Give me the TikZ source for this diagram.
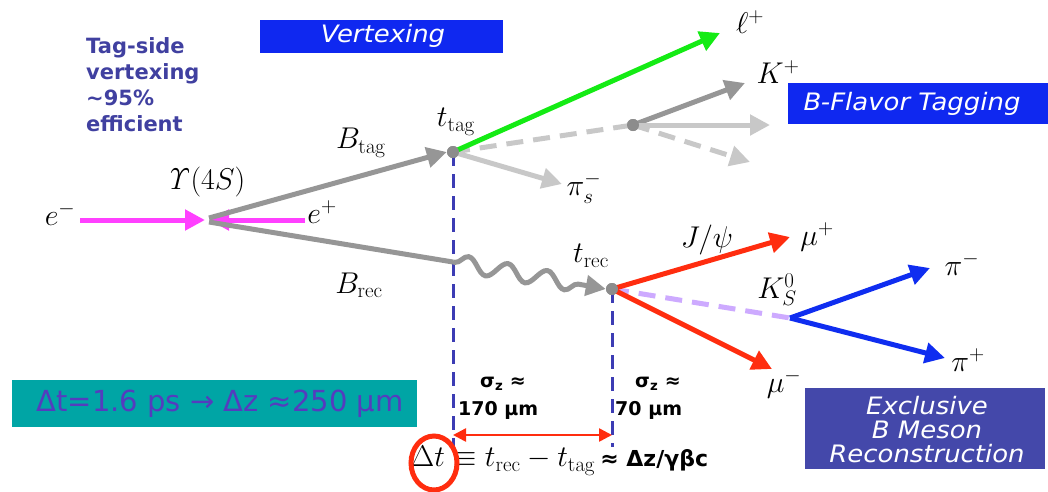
\RequirePackage{fix-cm}
\documentclass[tikz,border=0pt]{standalone}
\usepackage[no-math]{fontspec}
\newfontfamily\vf{DejaVu Sans}
\usetikzlibrary{arrows.meta,decorations.pathmorphing}
\definecolor{gr}{RGB}{150,150,150}
\definecolor{lgr}{RGB}{200,200,200}
\definecolor{dgr}{RGB}{140,140,140}
\definecolor{mag}{RGB}{255,64,255}
\definecolor{grn}{RGB}{20,235,20}
\definecolor{rd}{RGB}{255,45,15}
\definecolor{bl}{RGB}{15,45,240}
\definecolor{lav}{RGB}{205,170,255}
\definecolor{vd}{RGB}{60,60,180}
\definecolor{vbox}{RGB}{15,40,240}
\definecolor{pbox}{RGB}{68,72,170}
\definecolor{teal2}{RGB}{0,165,165}
\definecolor{tagc}{RGB}{64,64,160}
\definecolor{tealtxt}{RGB}{85,60,190}
\tikzset{
  trk/.style={line width=5pt},
  tip/.style={-{Triangle[length=20pt,width=20pt]}},
  lbl/.style={inner sep=0pt,font=\fontsize{30}{30}\selectfont},
  titlebox/.style={inner sep=0pt,text=white,font=\vf\itshape\fontsize{24}{24}\selectfont,align=center,xscale=1.08,transform shape},
  vdash/.style={draw=vd,line width=3pt,dash pattern=on 14pt off 8pt},
  dotn/.style={circle,fill=dgr,inner sep=0pt,minimum size=12pt},
  sig/.style={inner sep=0pt,font=\vf\bfseries\fontsize{19}{19}\selectfont},
}
\begin{document}
\begin{tikzpicture}[x=1pt,y=-1pt]
\useasboundingbox (0,0) rectangle (1048,491);
% boxes
\fill[vbox] (260,20) rectangle (503,53);
\node[titlebox] (vtx) at (383,36) {Vertexing};
\fill[vbox] (788,83) rectangle (1048,124);
\node[titlebox] (bft) at (912,104) {B-Flavor Tagging};
\fill[pbox] (805,388) rectangle (1045,469);
\node[titlebox] (excl) at (927,430) {Exclusive\\B Meson\\Reconstruction};
\fill[teal2] (12,380) rectangle (417,427);
\node[inner sep=0pt,text=tealtxt,font=\vf\fontsize{29}{29}\selectfont] (dtz) at (220,404) {Δt=1.6 ps → Δz ≈250 μm};
% tag-side text
\node[anchor=north west,inner sep=0pt,text=tagc,align=left,font=\vf\bfseries\fontsize{21}{26}\selectfont] (tagside) at (86,37) {Tag-side\\vertexing\\\textasciitilde95\%\\efficient};
% coordinates
\coordinate (em) at (80,220);
\coordinate (ep) at (305,220);
\node[dotn] (ttag) at (453,152) {};
\node[dotn] (trec) at (612,289) {};
\node[dotn] (tv) at (633,125) {};
\coordinate (ups1) at (205,220);
\coordinate (ups2) at (209,220);
\coordinate (btag0) at (209,218);
\coordinate (brec0) at (209,222);
\coordinate (brecw) at (453,262);
\coordinate (lp) at (720,33);
\coordinate (kp) at (745,83);
\coordinate (tc) at (770,125);
\coordinate (td) at (750,162);
\coordinate (pis) at (562,184);
\coordinate (mup) at (790,237);
\coordinate (mum) at (772,369);
\coordinate (ks) at (790,318);
\coordinate (pim) at (930,268);
\coordinate (pip) at (945,358);
\coordinate (v1b) at (453,447);
\coordinate (v2b) at (612,447);
\coordinate (da) at (453,435);
\coordinate (db) at (612,435);
% verticals
\draw[vdash] (ttag.center) -- (v1b);
\draw[vdash] (trec.center) -- (v2b);
% beams
\draw[trk,mag,tip] (em) -- (ups1);
\draw[trk,mag,tip] (ep) -- (ups2);
% B lines
\draw[trk,gr,tip] (btag0) -- (ttag.west);
\draw[trk,gr] (brec0) -- (brecw);
\draw[trk,gr,tip,decorate,decoration={snake,amplitude=8pt,segment length=40pt,pre length=2pt,post length=24pt}] (brecw) -- (trec.west);
% tag side
\draw[trk,lgr,dash pattern=on 17pt off 10pt] (ttag.center) -- (tv.center);
\draw[trk,lgr,tip] (ttag.center) -- (pis);
\draw[trk,grn,tip] (ttag.center) -- (lp);
\draw[trk,gr,tip] (tv.center) -- (kp);
\draw[trk,lgr,tip] (tv.center) -- (tc);
\draw[trk,lgr,tip,dash pattern=on 17pt off 10pt] (tv.center) -- (td);
% rec side
\draw[trk,lav,dash pattern=on 17pt off 10pt] (trec.center) -- (ks);
\draw[trk,rd,tip] (trec.center) -- (mup);
\draw[trk,rd,tip] (trec.center) -- (mum);
\draw[trk,bl,tip] (ks) -- (pim);
\draw[trk,bl,tip] (ks) -- (pip);
\node[dotn] at (ttag) {};
\node[dotn] at (trec) {};
\node[dotn] at (tv) {};
% labels
\node[lbl] (lem) at (60,214) {$e^-$};
\node[lbl] (lups) at (205,182) {$\mathit{\Upsilon}(4S)$};
\node[lbl] (lep) at (322,212) {$e^+$};
\node[lbl] (lbt) at (361,143) {$B_{\rm tag}$};
\node[lbl] (lbr) at (359,285) {$B_{\rm rec}$};
\node[lbl] (ltt) at (456,122) {$t_{\rm tag}$};
\node[lbl] (ltr) at (591,256) {$t_{\rm rec}$};
\node[lbl] (llp) at (750,22) {$\ell^+$};
\node[lbl] (lkp) at (778,72) {$K^+$};
\node[lbl] (lpis) at (584,188) {$\pi_s^-$};
\node[lbl] (ljp) at (707,240) {$J/\psi$};
\node[lbl] (lmup) at (817,237) {$\mu^+$};
\node[lbl] (lks) at (777,290) {$K_S^0$};
\node[lbl] (lpim) at (962,264) {$\pi^-$};
\node[lbl] (lpip) at (968,360) {$\pi^+$};
\node[lbl] (lmum) at (784,384) {$\mu^-$};
% sigma labels
\node[sig] (s1) at (503,384) {σ\textsubscript{z} ≈};
\node[sig,anchor=west] (s1b) at (458,410) {170 μm};
\node[sig] (s2) at (658,384) {σ\textsubscript{z} ≈};
\node[sig,anchor=west] (s2b) at (615,410) {70 μm};
% delta arrow
\draw[rd,line width=2.5pt,{Triangle[length=13pt,width=13pt]}-{Triangle[length=13pt,width=13pt]}] (da) -- (db);
% formula
\node[lbl,anchor=west] (form) at (411,461) {$\Delta t \equiv t_{\rm rec} - t_{\rm tag}$\,{\vf\bfseries\fontsize{22}{22}\selectfont ≈ Δz/γβc}};
\draw[rd,line width=5pt] (434,463) ellipse (23pt and 27pt);
\end{tikzpicture}
\end{document}
